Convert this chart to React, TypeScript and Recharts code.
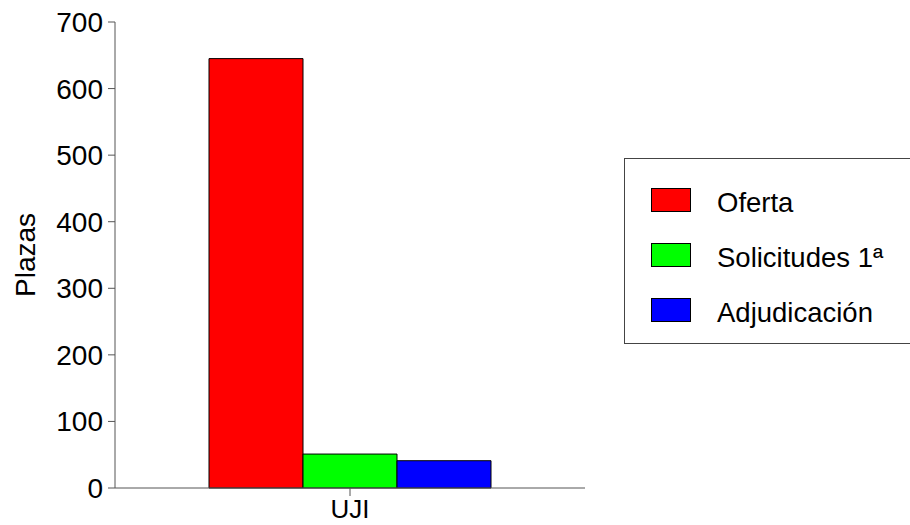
import React from 'react';
import { BarChart, Bar, XAxis, YAxis, Legend } from 'recharts';

const categories = ['UJI'];
const oferta = [645];
const solicitudes = [51];
const adjudicacion = [41];
const yTicks = [0, 100, 200, 300, 400, 500, 600, 700];

const SERIES = [
  { key: 'oferta', name: 'Oferta', color: '#ff0000' },
  { key: 'solicitudes', name: 'Solicitudes 1ª', color: '#00ff00' },
  { key: 'adjudicacion', name: 'Adjudicación', color: '#0000ff' }
];

const FONT = '"Liberation Sans", Arial, sans-serif';
const AXIS = '#555';

const data = categories.map((name, i) => ({
  name,
  oferta: oferta[i],
  solicitudes: solicitudes[i],
  adjudicacion: adjudicacion[i]
}));

const LegendBox = () => (
  <div
    style={{
      position: 'relative',
      width: 320,
      height: 186,
      border: '1px solid #444',
      boxSizing: 'border-box',
      background: '#fff',
      fontFamily: FONT
    }}
  >
    {SERIES.map((s, i) => (
      <div key={s.key}>
        <div
          style={{
            position: 'absolute',
            left: 26,
            top: 29 + i * 55,
            width: 40,
            height: 24,
            background: s.color,
            border: '1px solid #000',
            boxSizing: 'border-box'
          }}
        />
        <div
          style={{
            position: 'absolute',
            left: 92,
            top: 44 + i * 55,
            transform: 'translateY(-50%)',
            fontSize: 27.5,
            color: '#000',
            whiteSpace: 'nowrap',
            lineHeight: 1
          }}
        >
          {s.name}
        </div>
      </div>
    ))}
  </div>
);

const YLabel = (props: any) => {
  const vb = props.viewBox || { x: 0, y: 0, width: 0, height: 0 };
  const cx = vb.x + 35;
  const cy = vb.y + vb.height / 2;
  return (
    <text
      x={cx}
      y={cy}
      transform={`rotate(-90 ${cx} ${cy})`}
      textAnchor="middle"
      fontSize={28}
      fill="#000"
      fontFamily={FONT}
    >
      Plazas
    </text>
  );
};

export default function App() {
  return (
    <div
      style={{
        position: 'absolute',
        left: 0,
        top: 0,
        width: 910,
        height: 525,
        overflow: 'hidden',
        background: '#fff'
      }}
    >
      <BarChart
        width={910}
        height={525}
        data={data}
        margin={{ top: 22, right: 325, bottom: 0, left: 0 }}
        barCategoryGap="20%"
        barGap={0}
      >
        <XAxis
          dataKey="name"
          height={37}
          stroke={AXIS}
          tickSize={8}
          tickMargin={4}
          tick={{ fill: '#000', fontSize: 26, fontFamily: FONT }}
        />
        <YAxis
          width={115}
          domain={[0, 700]}
          ticks={yTicks}
          interval={0}
          stroke={AXIS}
          tickSize={7}
          tickMargin={5}
          tick={{ fill: '#000', fontSize: 28, fontFamily: FONT }}
          label={<YLabel />}
        />
        <Legend
          layout="vertical"
          align="center"
          verticalAlign="middle"
          wrapperStyle={{ left: 624, top: 158, width: 320, height: 186 }}
          content={() => <LegendBox />}
        />
        {SERIES.map((s) => (
          <Bar
            key={s.key}
            dataKey={s.key}
            name={s.name}
            fill={s.color}
            stroke="#000"
            strokeWidth={1}
            isAnimationActive={false}
          />
        ))}
      </BarChart>
    </div>
  );
}
